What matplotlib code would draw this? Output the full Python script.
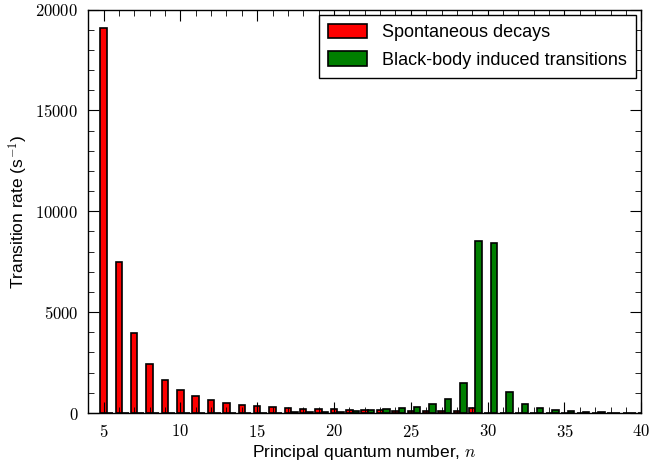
import numpy as np
import matplotlib
matplotlib.use("Agg")
import matplotlib.pyplot as plt
from matplotlib.ticker import MultipleLocator, FuncFormatter

plt.rcParams['font.family'] = ['Liberation Sans', 'DejaVu Sans']
plt.rcParams['mathtext.fontset'] = 'cm'

n_values = list(range(5, 41))
spontaneous = [19100, 7480, 3960, 2425, 1630, 1140, 840, 640, 500, 420,
               350, 300, 250, 220, 195, 175, 150, 140, 125, 115,
               105, 95, 90, 85, 260, 0, 0, 0, 0, 0,
               0, 0, 0, 0, 0, 0]
blackbody = [10, 10, 10, 12, 12, 14, 15, 16, 18, 20,
             22, 25, 30, 35, 45, 60, 110, 150, 190, 250,
             310, 445, 690, 1480, 8530, 8430, 1060, 445, 235, 150,
             90, 55, 35, 25, 18, 12]

x_ticks = [5, 10, 15, 20, 25, 30, 35, 40]
y_ticks = [0, 5000, 10000, 15000, 20000]

fig = plt.figure(figsize=(6.53, 4.68), dpi=100)
ax = fig.add_axes([0.135, 0.1175, 0.847, 0.862])

n = np.array(n_values)
w = 0.42
ax.bar(n, spontaneous, width=w, color='#ff0000', edgecolor='black',
       linewidth=1.2, label='Spontaneous decays', zorder=1)
ax.bar(n + w, blackbody, width=w, color='#007f00', edgecolor='black',
       linewidth=1.2, label='Black-body induced transitions', zorder=1)

ax.set_xlim(4, 40)
ax.set_ylim(0, 20000)
ax.set_xticks(x_ticks)
ax.set_yticks(y_ticks)
ax.xaxis.set_minor_locator(MultipleLocator(1))
ax.yaxis.set_minor_locator(MultipleLocator(1000))
fmt = FuncFormatter(lambda v, p: r'$%d$' % v)
ax.xaxis.set_major_formatter(fmt)
ax.yaxis.set_major_formatter(fmt)
ax.tick_params(which='both', direction='in', top=True, right=True,
               labelsize=12, color='black')
ax.tick_params(which='major', length=8, width=0.8, pad=7)
ax.tick_params(which='minor', length=4, width=0.6)
for s in ax.spines.values():
    s.set_linewidth(1.0)

ax.set_xlabel('Principal quantum number, $n$', fontsize=12.5, labelpad=2)
ax.set_ylabel('Transition rate (s$^{-1}$)', fontsize=12.5, labelpad=4)

leg = ax.legend(loc='upper right', fontsize=13, fancybox=False,
                framealpha=1, edgecolor='black', handlelength=2.2,
                handleheight=0.85, borderaxespad=0.3, labelspacing=0.55,
                borderpad=0.5)
leg.get_frame().set_linewidth(1.0)

fig.savefig('out.png', dpi=100)
